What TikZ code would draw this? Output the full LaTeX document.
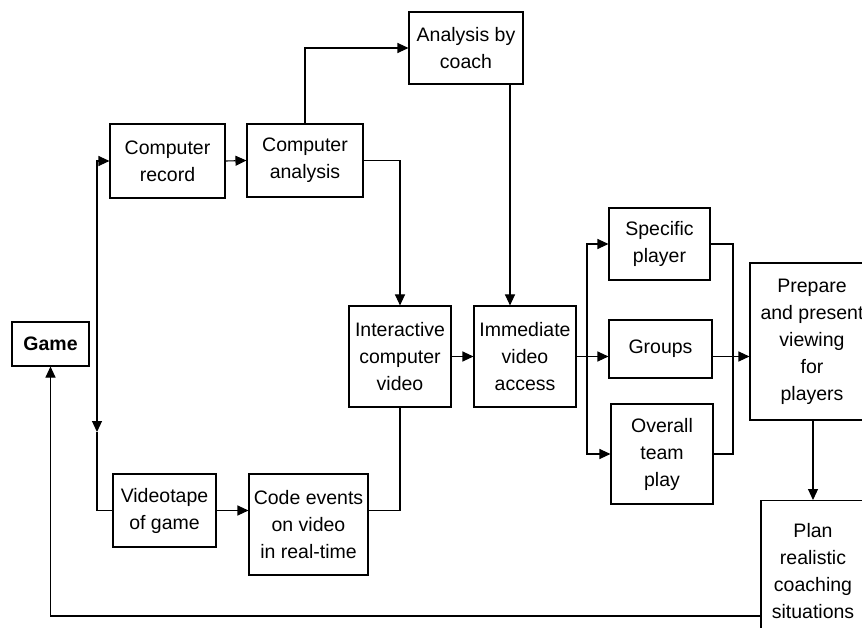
\documentclass[tikz,border=0pt]{standalone}
\usepackage{fontspec}
\setmainfont{Liberation Sans}
\usetikzlibrary{arrows.meta}
\begin{document}
\begin{tikzpicture}[x=1pt,y=-1pt,
  box/.style={draw,line width=1.1pt,inner sep=0pt,align=center,
    font=\fontsize{19.5}{27}\selectfont},
  conn/.style={line width=1.1pt},
  arr/.style={conn,-{Triangle[length=11pt,width=10pt]}}]
\useasboundingbox (0,0) rectangle (862,628);
\clip (0,0) rectangle (862,628);
% nodes
\node[box,minimum width=77pt,minimum height=44pt,font=\fontsize{19.5}{27}\selectfont\bfseries] (game) at (50.5,344) {Game};
\node[box,minimum width=115pt,minimum height=74pt] (cr) at (167.5,161) {Computer\\record};
\node[box,minimum width=116pt,minimum height=73pt] (ca) at (305,160.5) {Computer\\analysis};
\node[box,minimum width=114pt,minimum height=72pt] (ac) at (466,48) {Analysis by\\coach};
\node[box,minimum width=102pt,minimum height=101pt] (ic) at (400,356.5) {Interactive\\computer\\video};
\node[box,minimum width=102pt,minimum height=101pt] (iv) at (525,356.5) {Immediate\\video\\access};
\node[box,minimum width=101pt,minimum height=72pt] (sp) at (659.5,244) {Specific\\player};
\node[box,minimum width=103pt,minimum height=58pt] (gr) at (660.5,349) {Groups};
\node[box,minimum width=102pt,minimum height=100pt] (ot) at (662,454) {Overall\\team\\play};
\node[box,minimum width=124pt,minimum height=157pt] (pp) at (812,341.5) {Prepare\\and present\\viewing\\for\\players};
\node[box,minimum width=104pt,minimum height=140pt,anchor=north] (pl) at (813,500) {Plan\\realistic\\coaching\\situations};
\node[box,minimum width=103pt,minimum height=73pt] (vt) at (164.5,510.5) {Videotape\\of game};
\node[box,minimum width=119pt,minimum height=101pt] (ce) at (308.5,524.5) {Code events\\on video\\in real-time};
% coordinates
\coordinate (split) at (97,344);
\coordinate (mid) at (97,432);
\coordinate (acx) at (510,0);
\coordinate (fork) at (587,356.5);
\coordinate (merge) at (733,0);
\coordinate (fb) at (761,616);
% connectors
\draw[arr] (split) |- (cr.west);
\draw[arr] (split) -- (mid);
\draw[conn] (mid) |- (vt.west);
\draw[arr] (cr.east) -- (ca.west);
\draw[arr] (ca.north) |- (ac.west);
\draw[arr] (ca.east) -| (ic.north);
\draw[arr] (ac.south -| acx) -- (iv.north -| acx);
\draw[arr] (ic.east) -- (iv.west);
\draw[arr] (vt.west -| vt.east) -- (ce.west |- vt.east);
\draw[conn] (ce.east |- vt.east) -| (ic.south);
\draw[arr] (iv.east) -- (gr.west |- iv.east);
\draw[arr] (fork) |- (sp.west);
\draw[arr] (fork) |- (ot.west);
\draw[conn] (sp.east) -| (merge |- ot.east) -- (ot.east);
\draw[arr] (gr.east |- iv.east) -- (pp.west |- iv.east);
\draw[arr] (pp.south -| pl.north) -- (pl.north);
\draw[arr] (fb) -| (game.south);
\end{tikzpicture}
\end{document}
